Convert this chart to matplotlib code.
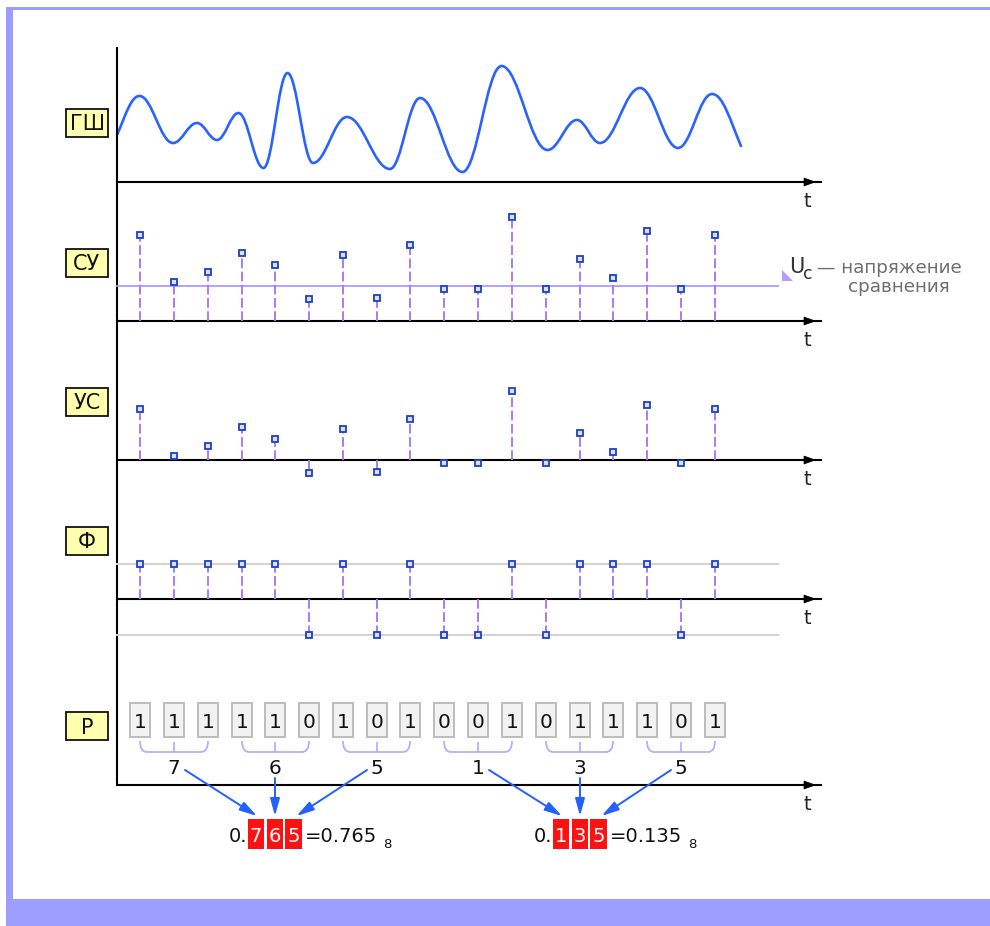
import numpy as np
import matplotlib.pyplot as plt
from matplotlib.patches import Rectangle, Polygon, PathPatch
from matplotlib.path import Path

# --- données lues sur le schéma (coordonnées en pixels, y vers le bas) ---
# bruit analogique ГШ : extrêmes successifs de la courbe
wave_x = [117, 139.5, 173, 197, 217, 238.5, 263.5, 287.5, 313, 347, 390, 420,
          462.5, 501.5, 547.5, 577, 600, 640, 678, 712, 741]
wave_y = [135, 96, 143, 123, 140, 113, 168, 73, 163, 117, 169, 98,
          172, 66, 150, 120, 143, 88, 148, 94, 146]

# instants d'échantillonnage
sample_t = [140, 174, 208, 242, 275, 309, 343, 377, 410, 444, 478, 512,
            546, 580, 613, 647, 681, 715]
# niveau des échantillons СУ (hauteur au-dessus de l'axe)
cy_level = [86, 39, 49, 68, 56, 22, 66, 23, 76, 32, 32, 104, 32, 62, 43, 90, 32, 86]
u_c = 35          # tension de comparaison
phi_amp = 35.5    # amplitude du signal Ф

labels = ['ГШ', 'СУ', 'УС', 'Ф', 'Р']
label_y = [123, 262.5, 401.5, 540.5, 726]
axis_y = [182, 321, 460, 599, 785]

# --- dérivés ---
cy_level = np.array(cy_level)
us_level = cy_level - u_c
bits = (cy_level > u_c).astype(int)
groups = bits.reshape(-1, 3)
octal = [g[0] * 4 + g[1] * 2 + g[2] for g in groups]

BLUE = '#2a62ff'
STEM = '#a47cff'
MK_EDGE = '#1f3fc4'
MK_FACE = '#d6e2ff'

fig = plt.figure(figsize=(9.9, 9.26), dpi=100)
ax = fig.add_axes([0, 0, 1, 1])
ax.set_xlim(0, 990)
ax.set_ylim(926, 0)
ax.axis('off')

# cadre
frame = '#9d9dff'
ax.add_patch(Rectangle((6, 7), 984, 2.5, color=frame, lw=0))
ax.add_patch(Rectangle((6, 7), 7, 919, color=frame, lw=0))
ax.add_patch(Rectangle((6, 899), 984, 27, color=frame, lw=0))

# axes
ax.plot([117, 117], [48, axis_y[-1]], color='k', lw=1.5)
for y in axis_y:
    ax.plot([117, 821], [y, y], color='k', lw=1.5)
    ax.add_patch(Polygon([(804, y - 4), (804, y + 4), (815, y)], closed=True,
                         color='k', lw=0.5))
    ax.text(807, y + 25, 't', fontsize=14, color='#222', ha='center', va='baseline')

# étiquettes
for lab, yc in zip(labels, label_y):
    ax.add_patch(Rectangle((66, yc - 14), 42, 28, facecolor='#ffffb0',
                           edgecolor='#111', lw=1.3))
    ax.text(87, yc + 7.5, lab, fontsize=15, ha='center', va='baseline', color='#111')

# ГШ : courbe lissée par segments de Bézier
k = 0.38
verts = [(wave_x[0], wave_y[0])]
codes = [Path.MOVETO]
n = len(wave_x)
for i in range(n - 1):
    x0, y0, x1, y1 = wave_x[i], wave_y[i], wave_x[i + 1], wave_y[i + 1]
    dx = x1 - x0
    c1 = (x0 + k * dx, y0 if i > 0 else y0 + (y1 - y0) * 0.5)
    c2 = (x1 - k * dx, y1 if i < n - 2 else y1 - (y1 - y0) * 0.5)
    verts += [c1, c2, (x1, y1)]
    codes += [Path.CURVE4] * 3
ax.add_patch(PathPatch(Path(verts, codes), fill=False, edgecolor=BLUE, lw=1.9,
                       capstyle='round'))

def stems(base, ys):
    for t, y in zip(sample_t, ys):
        ax.plot([t, t], [base, y], color=STEM, lw=1.4, ls=(0, (5, 1.8)))
    ax.plot(sample_t, ys, ls='none', marker='s', ms=4.6, mfc=MK_FACE,
            mec=MK_EDGE, mew=1.3, zorder=5)

# СУ
ax.plot([117, 778], [axis_y[1] - u_c] * 2, color='#a99cff', lw=1.3)
stems(axis_y[1], axis_y[1] - cy_level)
ax.add_patch(Polygon([(782, 270), (782, 281), (793, 281)], closed=True,
                     color='#b49cff', lw=0))
ax.text(789, 273, 'U', fontsize=15, color='#333', ha='left', va='baseline')
ax.text(803, 279, 'c', fontsize=12.5, color='#333', ha='left', va='baseline')
ax.text(817, 273, '— напряжение', fontsize=13.2, color='#6e6e6e', ha='left', va='baseline')
ax.text(899, 292, 'сравнения', fontsize=13.2, color='#6e6e6e', ha='center', va='baseline')

# УС
stems(axis_y[2], axis_y[2] - us_level)

# Ф
for lev in (axis_y[3] - phi_amp, axis_y[3] + phi_amp):
    ax.plot([117, 778], [lev, lev], color='#d2d2d2', lw=1.5)
stems(axis_y[3], axis_y[3] - phi_amp * np.where(bits == 1, 1, -1))

# Р : bits
for t, b in zip(sample_t, bits):
    ax.add_patch(Rectangle((t - 10, 703), 20, 34, facecolor='#f2f2f2',
                           edgecolor='#bcbcbc', lw=1.4))
    ax.text(t, 728.5, str(b), fontsize=14.5, ha='center', va='baseline', color='#111')

mids = []
for gi, d in enumerate(octal):
    xl, xc, xr = sample_t[3 * gi], sample_t[3 * gi + 1], sample_t[3 * gi + 2]
    mids.append(xc)
    pv = [(xl, 741), (xl, 752), (xl + 7, 752), (xr - 7, 752), (xr, 752), (xr, 741),
          (xc, 752), (xc, 742)]
    pc = [Path.MOVETO, Path.CURVE3, Path.CURVE3, Path.LINETO, Path.CURVE3, Path.CURVE3,
          Path.MOVETO, Path.LINETO]
    ax.add_patch(PathPatch(Path(pv, pc), fill=False, edgecolor='#b9a4ff', lw=1.2))
    ax.text(xc, 774, str(d), fontsize=14.5, ha='center', va='baseline', color='#111')

# nombres octaux
for ni in range(2):
    ds = octal[3 * ni:3 * ni + 3]
    gx = mids[3 * ni:3 * ni + 3]
    xm = gx[1]
    box_x = [xm - 19, xm, xm + 18.5]
    ends = [box_x[0] + 1, box_x[1], box_x[2] + 3]
    starts = [(gx[0] + 11, 770), (gx[1], 778), (gx[2] - 10, 770)]
    for s, e in zip(starts, ends):
        ax.annotate('', xy=(e, 816), xytext=s,
                    arrowprops=dict(arrowstyle='-|>,head_length=0.8,head_width=0.22',
                                    color='#2460ff', lw=1.4, mutation_scale=13,
                                    shrinkA=0, shrinkB=0))
    for bx, d in zip(box_x, ds):
        ax.add_patch(Rectangle((bx - 8.2, 819), 16.4, 30, facecolor='#ff1111',
                               edgecolor='none'))
        ax.text(bx, 842, str(d), fontsize=14, ha='center', va='baseline', color='white')
    ax.text(xm - 28, 842, '0.', fontsize=14, ha='right', va='baseline', color='#111')
    ax.text(xm + 30, 842, '=0.' + ''.join(str(d) for d in ds), fontsize=14,
            ha='left', va='baseline', color='#111')
    ax.text(xm + 108, 848, '8', fontsize=9.5, ha='left', va='baseline', color='#111')

fig.savefig('out.png', dpi=100)
